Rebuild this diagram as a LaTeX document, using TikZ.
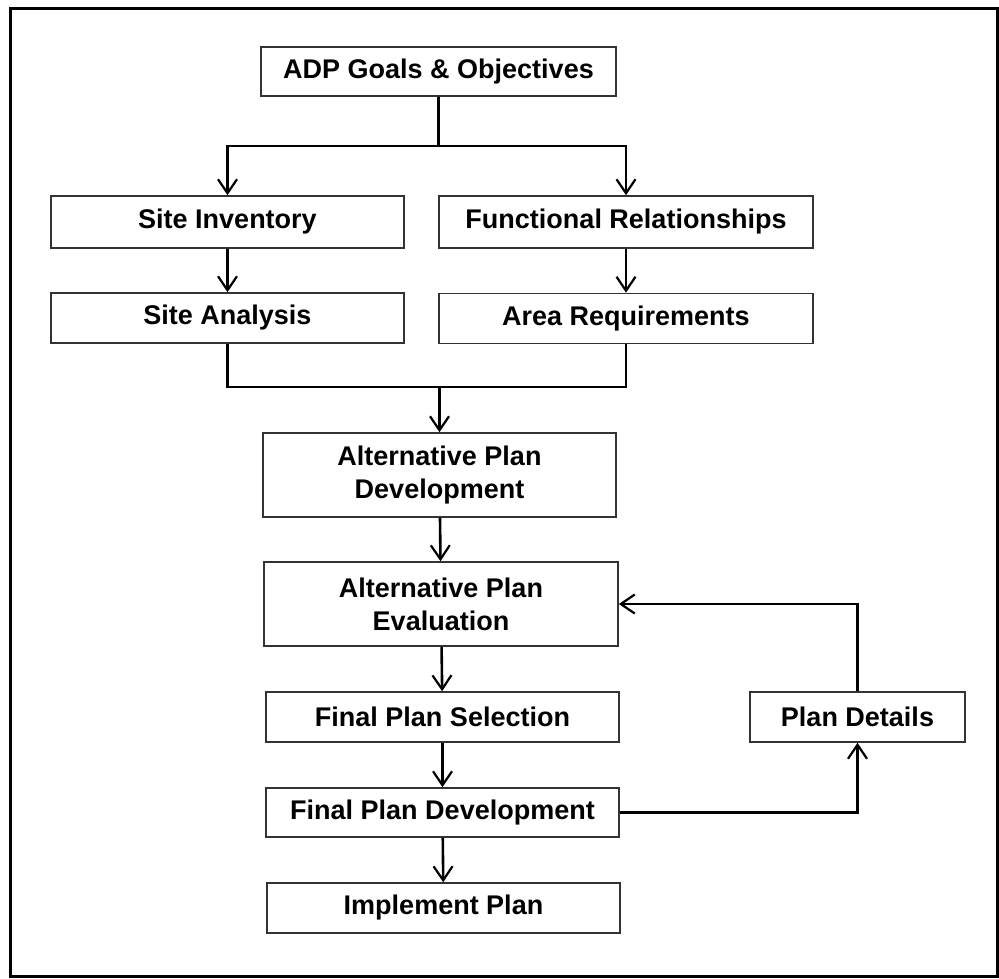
\documentclass[tikz,border=0pt]{standalone}
\usepackage{fontspec}
\setmainfont{Liberation Sans}
\usepackage{tikz}
\usetikzlibrary{arrows.meta,positioning}

\tikzset{
  stage/.style={draw=black!80, line width=1.6pt, fill=white, inner sep=0pt,
    minimum height=50pt, align=center,
    font=\fontsize{27}{33}\selectfont\bfseries},
  conn/.style={line width=2.6pt, black},
  flow/.style={conn, -{Straight Barb[length=14pt, width=19pt, line width=2.2pt]}},
}

\begin{document}
\begin{tikzpicture}[x=1pt, y=-1pt]
	\useasboundingbox (0,0) rectangle (999,978);
	\draw[line width=3pt] (10,8) rectangle (997.5,976.5);

	\node[stage, minimum width=355pt, minimum height=49pt] (goals) at (438.5,71.5) {ADP Goals \& Objectives};
	\node[stage, minimum width=353pt, minimum height=52pt] (inv) at (227.5,222) {Site Inventory};
	\node[stage, minimum width=374pt, minimum height=52pt] (func) at (626,222) {Functional Relationships};
	\node[stage, minimum width=353pt] (ana) at (227.5,318) {Site Analysis};
	\node[stage, minimum width=374pt] (area) at (626,318.5) {Area Requirements};
	\node[stage, minimum width=353pt, minimum height=84pt] (dev) at (439.5,475) {Alternative Plan\\Development};
	\node[stage, minimum width=354pt, minimum height=84pt] (eval) at (441,604) {Alternative Plan\\Evaluation};
	\node[stage, minimum width=353pt] (sel) at (442.5,717) {Final Plan Selection};
	\node[stage, minimum width=215pt] (details) at (857.5,717) {Plan Details};
	\node[stage, minimum width=353pt, minimum height=49pt] (fdev) at (442.5,812.5) {Final Plan Development};
	\node[stage, minimum width=353pt] (impl) at (443.5,908) {Implement Plan};

	\coordinate (split) at (438.5,146);
	\coordinate (merge) at (439.5,387);

	\draw[conn] (goals) -- (split);
	\draw[flow] (split) -| (inv);
	\draw[flow] (split) -| (func);
	\draw[flow] (inv) -- (ana);
	\draw[flow] (func) -- (area);
	\draw[conn] (ana) |- (merge);
	\draw[conn] (area) |- (merge);
	\draw[flow] (merge) -- (dev);
	\draw[flow] (dev) -- (eval);
	\draw[flow] (eval) -- (sel);
	\draw[flow] (sel) -- (fdev);
	\draw[flow] (fdev) -- (impl);
	\draw[flow] (fdev) -| (details);
	\draw[flow] (details) |- (eval);
\end{tikzpicture}
\end{document}
